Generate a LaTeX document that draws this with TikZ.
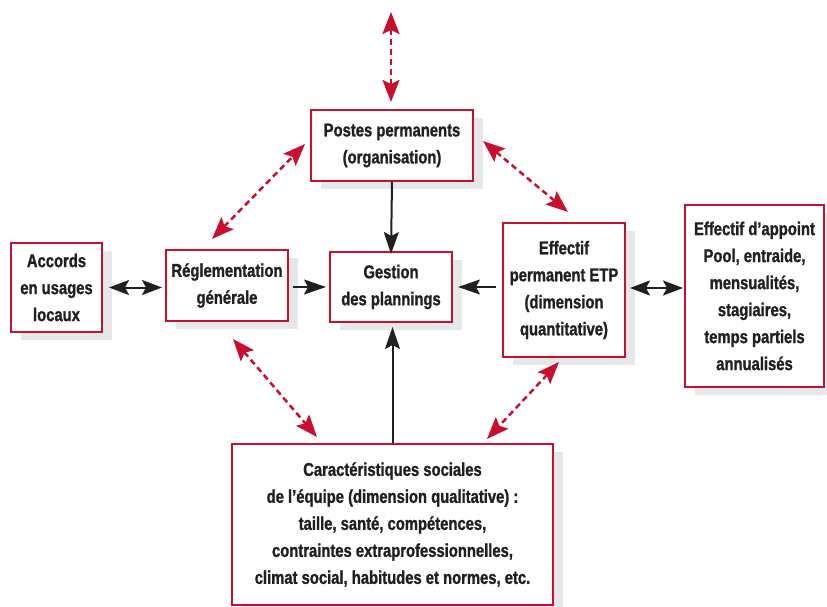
\documentclass[tikz,border=0pt]{standalone}
\usepackage{fontspec}
\setmainfont{Liberation Sans}[FakeStretch=0.8,BoldFeatures={FakeBold=1.2}]
\usetikzlibrary{arrows.meta,calc}
\definecolor{boxred}{HTML}{C8102E}
\definecolor{shadowgray}{HTML}{E6E7E9}
\definecolor{txt}{HTML}{231F20}
\begin{document}
\begin{tikzpicture}[x=1pt,y=-1pt,
  box/.style={draw=boxred,line width=2pt,fill=white,align=center,inner sep=0pt,
    text=txt,font=\fontsize{18.5}{27}\selectfont\bfseries,
    preaction={fill=shadowgray,transform canvas={shift={(10pt,-8pt)}}}},
  blk/.style={draw=txt,line width=2pt,-{Stealth[length=22pt,width=15pt,inset=4pt]}},
  blkdbl/.style={draw=txt,line width=2pt,{Stealth[length=20pt,width=15pt,inset=4pt]}-{Stealth[length=20pt,width=15pt,inset=4pt]}},
  reddbl/.style={draw=boxred,line width=2.5pt,dash pattern=on 6pt off 4pt,
    {Stealth[length=22pt,width=17pt,inset=4pt]}-{Stealth[length=22pt,width=17pt,inset=4pt]}}
  ]
\useasboundingbox (0,0) rectangle (827,607);
\node[box,minimum width=162pt,minimum height=71pt] (postes) at (392,145.5) {Postes permanents\\(organisation)};
\node[box,minimum width=91pt,minimum height=89pt] (accords) at (56.5,287.5) {Accords\\en usages\\locaux};
\node[box,minimum width=122pt,minimum height=71pt] (regl) at (227,285.5) {Réglementation\\générale};
\node[box,minimum width=122pt,minimum height=70pt] (gestion) at (391,287) {Gestion\\des plannings};
\node[box,minimum width=122pt,minimum height=134pt] (etp) at (564,290) {Effectif\\permanent ETP\\(dimension\\quantitative)};
\node[box,minimum width=139pt,minimum height=182pt] (appoint) at (754.5,296) {Effectif d’appoint\\Pool, entraide,\\mensualités,\\stagiaires,\\temps partiels\\annualisés};
\node[box,minimum width=321pt,minimum height=161pt] (caract) at (392.5,524.5) {Caractéristiques sociales\\de l’équipe (dimension qualitative) :\\taille, santé, compétences,\\contraintes extraprofessionnelles,\\climat social, habitudes et normes, etc.};
% coordinates for free ends
\coordinate (top) at (391,12);
\coordinate (pT) at (391,102);
\coordinate (pL) at (305,144);
\coordinate (rT) at (212,239);
\coordinate (pR) at (483,141);
\coordinate (eT) at (568,212);
\coordinate (rB) at (233,339);
\coordinate (cL) at (317,437);
\coordinate (eB) at (559,362);
\coordinate (cR) at (487,439);
% black arrows
\draw[blk] (postes.south) -- ($(gestion.north)+(0,3)$);
\draw[blk] (caract.north) -- ($(caract.north |- gestion.south)+(0,4)$);
\draw[blkdbl] ($(accords.east)+(6,0)$) -- ($(regl.west |- accords.east)+(-3,0)$);
\draw[blk] ($(regl.east)+(4,1.5)$) -- ($(gestion.west)+(-3,0)$);
\draw[blk] ($(etp.west |- gestion.east)+(-6,0)$) -- ($(gestion.east)+(5,0)$);
\draw[blkdbl] ($(etp.east |- 0,288)+(4,0)$) -- ($(appoint.west |- 0,288)+(-1,0)$);
% red dashed arrows
\draw[reddbl] (pT) -- (top);
\draw[reddbl] (rT) -- (pL);
\draw[reddbl] (pR) -- (eT);
\draw[reddbl] (rB) -- (cL);
\draw[reddbl] (eB) -- (cR);
\end{tikzpicture}
\end{document}
